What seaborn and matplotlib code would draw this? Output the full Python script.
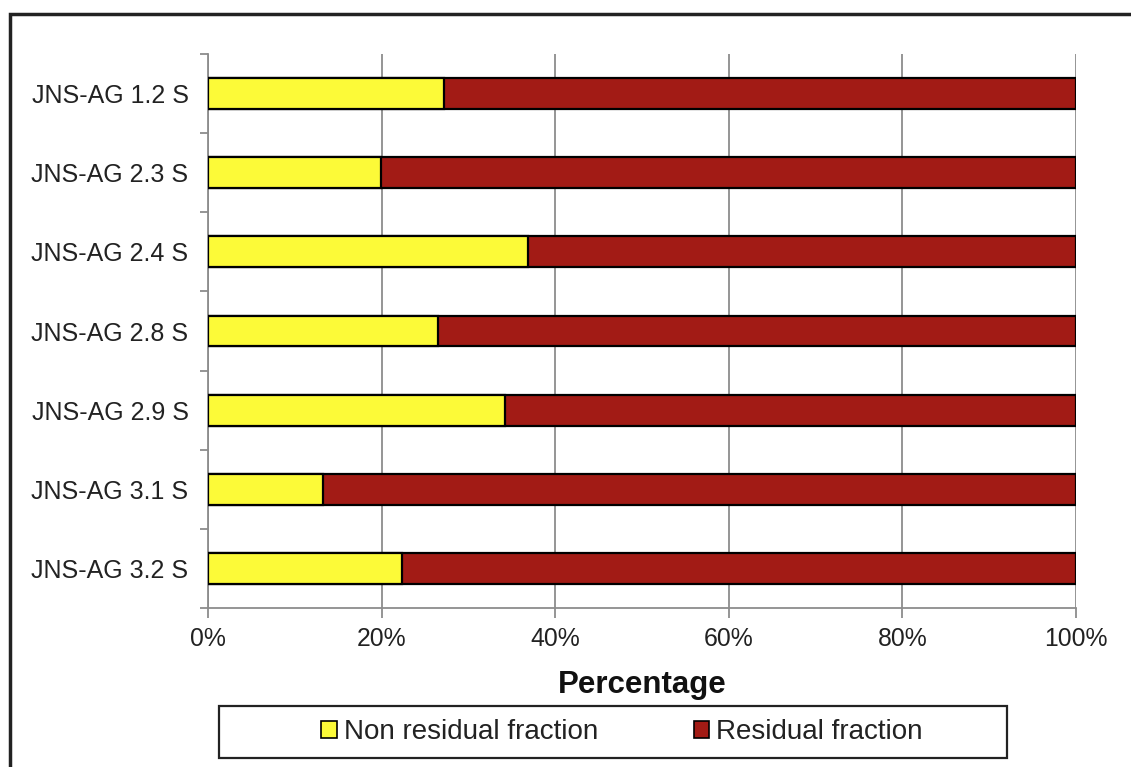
import matplotlib
matplotlib.use("Agg")
import matplotlib.pyplot as plt
import seaborn as sns
import pandas as pd
from matplotlib.patches import Rectangle, Patch
from matplotlib.ticker import FuncFormatter, FixedLocator

samples = ["JNS-AG 1.2 S", "JNS-AG 2.3 S", "JNS-AG 2.4 S", "JNS-AG 2.8 S",
           "JNS-AG 2.9 S", "JNS-AG 3.1 S", "JNS-AG 3.2 S"]
non_residual = [27.2, 19.9, 36.9, 26.5, 34.2, 13.2, 22.4]
residual = [100 - v for v in non_residual]
series_names = ["Non residual fraction", "Residual fraction"]
x_ticks = [0, 20, 40, 60, 80, 100]

YELLOW = "#FCFA38"
RED = "#A21B15"

df = pd.DataFrame({"sample": samples, "non": non_residual, "res": residual})
df["total"] = df["non"] + df["res"]

sns.set_style("white")
plt.rcParams["font.family"] = ["Liberation Sans", "DejaVu Sans"]

fig = plt.figure(figsize=(11.31, 7.67), dpi=100)
ax = fig.add_axes([208/1131, 1-608/767, (1076-208)/1131, (608-54)/767])

sns.barplot(data=df, y="sample", x="total", orient="h", color=RED, saturation=1,
            edgecolor="black", linewidth=1.6, width=0.39, ax=ax, zorder=3)
sns.barplot(data=df, y="sample", x="non", orient="h", color=YELLOW, saturation=1,
            edgecolor="black", linewidth=1.6, width=0.39, ax=ax, zorder=4)

ax.set_xlim(0, 100)
ax.set_ylim(len(samples) - 0.5, -0.5)
ax.xaxis.set_major_locator(FixedLocator(x_ticks))
ax.xaxis.set_major_formatter(FuncFormatter(lambda v, _: f"{int(v)}%"))
ax.grid(axis="x", color="#8c8c8c", linewidth=1.3, zorder=0)
ax.grid(axis="y", visible=False)
ax.set_axisbelow(True)

for s in ["top", "right"]:
    ax.spines[s].set_visible(False)
for s in ["left", "bottom"]:
    ax.spines[s].set_color("#8c8c8c")
    ax.spines[s].set_linewidth(1.3)

ax.set_yticks(range(len(samples)))
ax.set_yticklabels(samples)
ax.set_yticks([i - 0.5 for i in range(len(samples) + 1)], minor=True)
ax.tick_params(axis="y", which="major", left=True, length=0, pad=14, labelsize=18, labelcolor="#222222")
ax.tick_params(axis="y", which="minor", left=True, length=6, width=1.3, color="#8c8c8c", direction="out")
ax.tick_params(axis="x", which="major", bottom=True, length=7, width=1.3, color="#8c8c8c",
               direction="out", pad=7, labelsize=17.8, labelcolor="#222222")

ax.set_ylabel("")
ax.set_xlabel("Percentage", fontsize=22.5, fontweight="bold", labelpad=13, color="#111111")

# figure frame
fig.patches.append(Rectangle((10/1131, -0.1), 1.2, 1 - 14/767 + 0.1, transform=fig.transFigure,
                             fill=False, edgecolor="#222222", linewidth=2.5, zorder=0))
# legend box
fig.patches.append(Rectangle((219/1131, 1-758/767), (1007-219)/1131, (758-706)/767,
                             transform=fig.transFigure, fill=False, edgecolor="#222222",
                             linewidth=1.6, zorder=5))

handles = [Patch(facecolor=YELLOW, edgecolor="black", linewidth=1.2),
           Patch(facecolor=RED, edgecolor="black", linewidth=1.2)]
fig.legend(handles, series_names, loc="center", bbox_to_anchor=(622/1131, 1-732/767),
           ncol=2, frameon=False, fontsize=20, handlelength=0.55, handleheight=0.55,
           handletextpad=0.25, columnspacing=3.45, labelcolor="#222222")

fig.savefig("out.png", dpi=100)
